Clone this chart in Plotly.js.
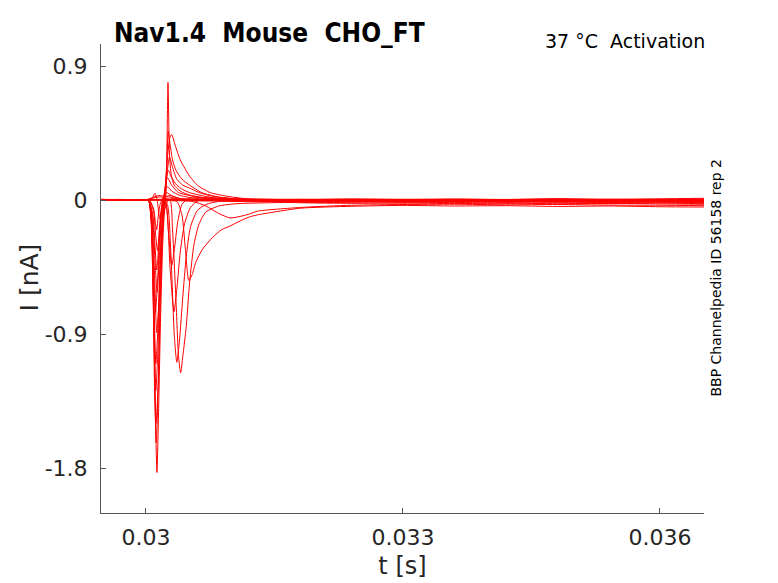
<!DOCTYPE html>
<html>
<head>
<meta charset="utf-8">
<script src="https://cdn.plot.ly/plotly-3.0.1.min.js"></script>
<style>html,body{margin:0;padding:0;background:#fff;}#chart{width:778px;height:583px;}</style>
</head>
<body>
<div id="chart"></div>
<script>
// Time values in ms (converted to s when plotting); currents in nA.
const headT = [29.475, 29.70, 29.90, 30.00];
const tailT = [31.3, 31.8, 32.4, 33.0, 33.6, 34.2, 34.8, 35.4, 36.0, 36.514];

const headI = [
  [0.003, 0.004, 0.002, 0.003],
  [0.000, 0.001, -0.002, 0.000],
  [0.002, 0.000, 0.003, 0.001],
  [0.001, 0.003, 0.000, 0.002],
  [0.000, 0.002, 0.001, 0.000],
  [-0.002, 0.000, -0.001, 0.000],
  [0.004, 0.002, 0.003, 0.002],
  [0.001, -0.001, 0.002, 0.001],
  [0.002, 0.003, 0.001, 0.002],
  [0.000, 0.002, 0.003, 0.001],
  [0.005, 0.003, 0.004, 0.003],
  [-0.003, -0.001, -0.002, -0.001],
  [0.002, 0.001, 0.000, 0.001],
  [0.001, 0.002, 0.003, 0.002],
  [-0.001, 0.000, 0.001, 0.000],
  [0.003, 0.001, 0.002, 0.002],
  [0.000, -0.002, 0.000, -0.001],
  [0.002, 0.004, 0.002, 0.003],
  [0.001, 0.000, 0.002, 0.001],
  [-0.002, -0.001, 0.000, -0.001]
];

const midT = [
  [30.3, 30.8],
  [30.3, 30.8],
  [30.3, 30.55, 30.7, 30.85, 30.98, 31.1, 31.2],
  [30.2, 30.36, 30.42, 30.46, 30.50, 30.54, 30.58, 30.66, 30.78, 30.88, 30.98, 31.1, 31.2],
  [30.2, 30.28, 30.31, 30.35, 30.38, 30.405, 30.43, 30.47, 30.51, 30.56, 30.62, 30.7, 30.85, 31.05],
  [30.2, 30.25, 30.29, 30.33, 30.36, 30.39, 30.43, 30.47, 30.52, 30.6, 30.7, 30.85],
  [30.18, 30.24, 30.28, 30.327, 30.36, 30.40, 30.45, 30.52, 30.62],
  [30.15, 30.22, 30.26, 30.30, 30.33, 30.37, 30.42, 30.5],
  [30.03, 30.06, 30.09, 30.11, 30.128, 30.148, 30.17, 30.195, 30.215, 30.235, 30.257, 30.275, 30.295, 30.33, 30.4, 30.5, 30.7, 31.0],
  [30.03, 30.06, 30.085, 30.10, 30.12, 30.14, 30.165, 30.19, 30.215, 30.24, 30.26, 30.28, 30.31, 30.35, 30.42, 30.51, 30.65, 30.85, 31.1],
  [30.03, 30.06, 30.09, 30.118, 30.145, 30.17, 30.195, 30.22, 30.25, 30.28, 30.30, 30.34, 30.40, 30.51, 30.6, 30.75, 30.95, 31.15],
  [30.03, 30.06, 30.09, 30.115, 30.14, 30.165, 30.19, 30.22, 30.25, 30.275, 30.31, 30.36, 30.43, 30.51, 30.62, 30.78, 31.0],
  [30.03, 30.065, 30.09, 30.115, 30.14, 30.165, 30.2, 30.23, 30.26, 30.3, 30.36, 30.43, 30.51, 30.65, 30.85],
  [30.03, 30.07, 30.1, 30.125, 30.15, 30.175, 30.21, 30.25, 30.3, 30.38, 30.51, 30.7],
  [30.03, 30.065, 30.09, 30.11, 30.135, 30.16, 30.2, 30.25, 30.3, 30.4, 30.6],
  [30.03, 30.075, 30.105, 30.13, 30.155, 30.18, 30.21, 30.24, 30.3, 30.4],
  [30.03, 30.08, 30.105, 30.125, 30.15, 30.18, 30.22, 30.28, 30.4],
  [30.04, 30.09, 30.115, 30.135, 30.155, 30.18, 30.21, 30.28, 30.4],
  [30.04, 30.09, 30.11, 30.125, 30.145, 30.17, 30.21, 30.3],
  [30.04, 30.08, 30.105, 30.13, 30.16, 30.19, 30.22, 30.26, 30.32, 30.4]
];

const midI = [
  [0.004, 0.003],
  [-0.004, -0.006],
  [0.000, -0.010, -0.040, -0.090, -0.120, -0.110, -0.095],
  [0.000, -0.010, -0.100, -0.330, -0.540, -0.500, -0.420, -0.330, -0.250, -0.200, -0.175, -0.140, -0.115],
  [0.005, 0.000, -0.200, -0.670, -1.050, -1.160, -1.050, -0.850, -0.550, -0.300, -0.160, -0.080, -0.040, -0.025],
  [0.000, -0.030, -0.350, -0.900, -1.090, -0.950, -0.650, -0.380, -0.180, -0.070, -0.030, -0.010],
  [0.020, -0.050, -0.450, -0.750, -0.600, -0.350, -0.160, -0.050, 0.000],
  [0.030, 0.020, -0.200, -0.440, -0.340, -0.150, -0.030, 0.010],
  [0.000, -0.150, -0.800, -1.450, -1.830, -1.400, -0.800, -0.300, -0.080, 0.050, 0.790, 0.300, 0.170, 0.100, 0.060, 0.035, 0.015, 0.005],
  [0.000, -0.120, -0.700, -1.250, -1.630, -1.300, -0.700, -0.250, 0.000, 0.200, 0.460, 0.380, 0.270, 0.200, 0.140, 0.100, 0.050, 0.020, 0.006],
  [0.000, -0.100, -0.750, -1.500, -1.200, -0.600, -0.200, 0.050, 0.280, 0.420, 0.440, 0.370, 0.270, 0.160, 0.100, 0.050, 0.025, 0.010],
  [0.000, -0.100, -0.650, -1.280, -1.000, -0.500, -0.150, 0.050, 0.200, 0.290, 0.220, 0.140, 0.100, 0.080, 0.050, 0.025, 0.010],
  [0.000, -0.150, -0.600, -1.100, -0.850, -0.400, -0.050, 0.100, 0.200, 0.150, 0.100, 0.070, 0.050, 0.030, 0.010],
  [0.000, -0.120, -0.500, -0.890, -0.700, -0.300, 0.000, 0.150, 0.100, 0.050, 0.030, 0.010],
  [0.000, -0.120, -0.450, -0.760, -0.550, -0.250, 0.020, 0.090, 0.060, 0.030, 0.010],
  [0.000, -0.100, -0.400, -0.620, -0.400, -0.120, 0.020, 0.050, 0.030, 0.010],
  [0.000, -0.100, -0.300, -0.470, -0.300, -0.080, 0.020, 0.030, 0.010],
  [0.000, -0.080, -0.250, -0.340, -0.200, -0.050, 0.020, 0.020, 0.005],
  [0.000, -0.060, -0.150, -0.200, -0.100, -0.020, 0.010, 0.005],
  [0.000, 0.020, 0.045, 0.000, -0.120, -0.150, -0.060, 0.000, 0.010, 0.000]
];

const tailI = [
  [0.006, 0.004, 0.008, 0.005, 0.007, 0.004, 0.009, 0.006, 0.008, 0.012],
  [-0.008, -0.012, -0.009, -0.013, -0.010, -0.014, -0.011, -0.015, -0.012, -0.010],
  [-0.075, -0.050, -0.035, -0.030, -0.028, -0.032, -0.030, -0.034, -0.035, -0.038],
  [-0.100, -0.055, -0.042, -0.036, -0.040, -0.038, -0.043, -0.040, -0.045, -0.047],
  [-0.020, -0.015, -0.018, -0.020, -0.016, -0.022, -0.018, -0.024, -0.020, -0.025],
  [-0.012, -0.008, -0.011, -0.006, -0.010, -0.007, -0.012, -0.008, -0.011, -0.009],
  [-0.004, 0.000, -0.005, -0.002, -0.006, -0.001, -0.004, 0.000, -0.003, -0.002],
  [0.002, -0.003, 0.001, -0.004, 0.000, -0.005, -0.002, -0.006, -0.003, -0.004],
  [0.003, 0.000, 0.004, 0.001, 0.005, 0.002, 0.000, 0.004, 0.002, 0.006],
  [0.002, 0.005, 0.001, 0.004, 0.000, 0.003, 0.006, 0.002, 0.005, 0.003],
  [0.006, 0.002, -0.002, 0.001, -0.003, 0.000, -0.004, -0.001, -0.005, -0.002],
  [0.004, -0.001, 0.002, -0.003, 0.001, -0.002, 0.002, -0.004, 0.000, -0.003],
  [-0.002, -0.006, -0.003, -0.008, -0.004, -0.009, -0.005, -0.007, -0.010, -0.006],
  [0.000, -0.004, -0.008, -0.005, -0.009, -0.006, -0.010, -0.007, -0.012, -0.015],
  [-0.003, -0.007, -0.004, -0.009, -0.012, -0.008, -0.011, -0.014, -0.010, -0.013],
  [-0.005, -0.018, -0.022, -0.019, -0.024, -0.020, -0.025, -0.022, -0.026, -0.028],
  [0.001, 0.004, 0.000, 0.003, -0.001, 0.002, 0.005, 0.001, 0.003, 0.000],
  [-0.001, -0.003, 0.000, -0.002, 0.001, -0.003, -0.001, 0.002, -0.002, 0.001],
  [0.000, 0.002, -0.001, 0.003, 0.000, 0.002, -0.002, 0.001, 0.003, 0.004],
  [-0.006, -0.010, -0.007, -0.012, -0.009, -0.013, -0.010, -0.016, -0.014, -0.018]
];

const xTickVals = [0.03, 0.033, 0.036];
const xTickText = ['0.03', '0.033', '0.036'];
const yTickVals = [0.9, 0, -0.9, -1.8];
const yTickText = ['0.9', '0', '-0.9', '-1.8'];

const traces = [];
for (let k = 0; k < midT.length; k++) {
  const tt = headT.concat(midT[k]).concat(tailT).map(v => v / 1000);
  const ii = headI[k].concat(midI[k]).concat(tailI[k]);
  traces.push({
    x: tt, y: ii, type: 'scatter', mode: 'lines',
    line: {color: '#ff0000', width: 1, shape: 'spline', smoothing: 0.6},
    hoverinfo: 'skip', showlegend: false
  });
}

const FONT = 'DejaVu Sans, sans-serif';
const axisColor = '#262626';
const layout = {
  width: 778, height: 583,
  margin: {l: 101, r: 74, t: 44, b: 70, pad: 0},
  paper_bgcolor: '#ffffff', plot_bgcolor: '#ffffff',
  showlegend: false,
  font: {family: FONT, color: axisColor},
  xaxis: {
    range: [0.029475, 0.036514],
    tickvals: xTickVals, ticktext: xTickText,
    ticks: 'inside', ticklen: 5, tickcolor: '#555', tickwidth: 1,
    showline: true, linecolor: '#555', linewidth: 1,
    showgrid: false, zeroline: false, mirror: false,
    tickfont: {family: FONT, size: 22, color: axisColor},
    ticklabelstandoff: 5,
    title: {text: 't [s]', font: {family: FONT, size: 24, color: axisColor}, standoff: 7}
  },
  yaxis: {
    range: [-2.102, 1.048],
    tickvals: yTickVals, ticktext: yTickText,
    ticks: 'inside', ticklen: 5, tickcolor: '#555', tickwidth: 1,
    showline: true, linecolor: '#555', linewidth: 1,
    showgrid: false, zeroline: false, mirror: false,
    tickfont: {family: FONT, size: 22, color: axisColor},
    ticklabelstandoff: 8
  },
  annotations: [
    {xref: 'paper', yref: 'paper', x: -0.118, y: 0.502, xanchor: 'center', yanchor: 'middle',
     text: 'I [nA]', textangle: -90, showarrow: false,
     font: {family: FONT, size: 25, color: axisColor}},
    {xref: 'paper', yref: 'paper', x: 0.018, y: 1.0235, xanchor: 'left', yanchor: 'middle',
     text: '<b>Nav1.4  Mouse  CHO_FT</b>', showarrow: false,
     font: {family: 'DejaVu Sans Condensed, DejaVu Sans, sans-serif', size: 26, color: '#000'}},
    {xref: 'paper', yref: 'paper', x: 1.005, y: 1.006, xanchor: 'right', yanchor: 'middle',
     text: '37 °C  Activation', showarrow: false,
     font: {family: FONT, size: 19, color: '#000'}},
    {xref: 'paper', yref: 'paper', x: 1.0199, y: 0.502, xanchor: 'center', yanchor: 'middle',
     text: 'BBP Channelpedia ID 56158 rep 2', textangle: -90, showarrow: false,
     font: {family: FONT, size: 14, color: '#000'}}
  ]
};

Plotly.newPlot('chart', traces, layout, {displayModeBar: false, staticPlot: true});
</script>
</body>
</html>
